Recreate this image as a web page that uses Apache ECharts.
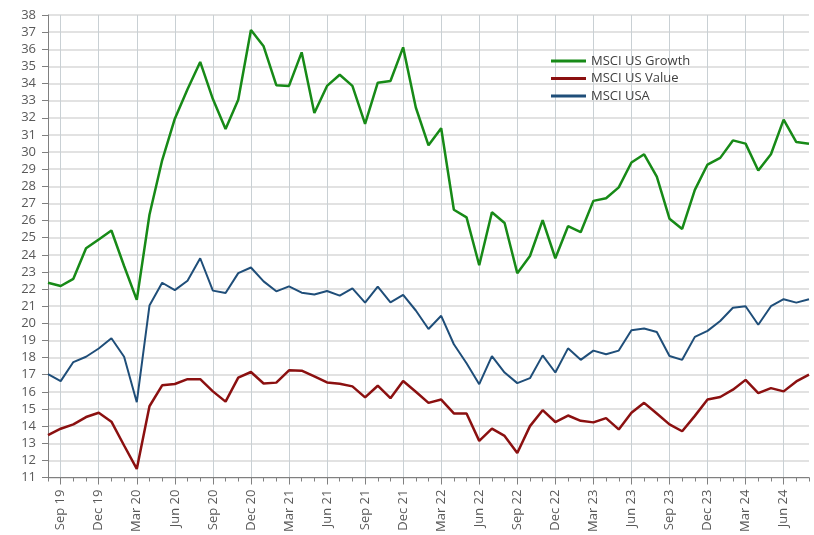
<!DOCTYPE html>
<html>
<head>
<meta charset="utf-8">
<script src="https://cdn.jsdelivr.net/npm/echarts@6/dist/echarts.min.js"></script>
<style>
  html, body { margin: 0; padding: 0; background: #fff; }
  #chart { width: 814px; height: 535px; }
</style>
</head>
<body>
<div id="chart"></div>
<script>
// monthly, Aug 19 .. Aug 24
const months = [
  'Aug 19', 'Sep 19', 'Oct 19', 'Nov 19', 'Dec 19', 'Jan 20', 'Feb 20', 'Mar 20', 'Apr 20', 'May 20',
  'Jun 20', 'Jul 20', 'Aug 20', 'Sep 20', 'Oct 20', 'Nov 20', 'Dec 20', 'Jan 21', 'Feb 21', 'Mar 21',
  'Apr 21', 'May 21', 'Jun 21', 'Jul 21', 'Aug 21', 'Sep 21', 'Oct 21', 'Nov 21', 'Dec 21', 'Jan 22',
  'Feb 22', 'Mar 22', 'Apr 22', 'May 22', 'Jun 22', 'Jul 22', 'Aug 22', 'Sep 22', 'Oct 22', 'Nov 22',
  'Dec 22', 'Jan 23', 'Feb 23', 'Mar 23', 'Apr 23', 'May 23', 'Jun 23', 'Jul 23', 'Aug 23', 'Sep 23',
  'Oct 23', 'Nov 23', 'Dec 23', 'Jan 24', 'Feb 24', 'Mar 24', 'Apr 24', 'May 24', 'Jun 24', 'Jul 24',
  'Aug 24'
]

const growth = [
  22.37, 22.18, 22.6, 24.38, 24.9, 25.42, 23.35, 21.37, 26.34, 29.52,
  31.95, 33.66, 35.26, 33.09, 31.35, 33.05, 37.13, 36.17, 33.9, 33.86,
  35.82, 32.28, 33.86, 34.51, 33.86, 31.64, 34.05, 34.15, 36.11, 32.6,
  30.39, 31.39, 26.63, 26.19, 23.39, 26.49, 25.86, 22.93, 23.93, 26.03,
  23.8, 25.67, 25.32, 27.15, 27.3, 27.94, 29.39, 29.87, 28.56, 26.11,
  25.51, 27.79, 29.27, 29.66, 30.68, 30.49, 28.92, 29.87, 31.89, 30.58,
  30.48
]

const value = [
  13.47, 13.85, 14.1, 14.53, 14.78, 14.26, 12.87, 11.5, 15.16, 16.38,
  16.46, 16.74, 16.74, 16.03, 15.43, 16.83, 17.16, 16.49, 16.54, 17.26,
  17.24, 16.9, 16.55, 16.47, 16.32, 15.68, 16.36, 15.63, 16.63, 16.01,
  15.36, 15.55, 14.74, 14.74, 13.14, 13.85, 13.43, 12.43, 14.0, 14.93,
  14.24, 14.62, 14.31, 14.22, 14.47, 13.81, 14.78, 15.36, 14.74, 14.1,
  13.7, 14.6, 15.55, 15.7, 16.13, 16.7, 15.93, 16.22, 16.03, 16.61,
  17.01
]

const usa = [
  17.03, 16.63, 17.74, 18.05, 18.53, 19.13, 18.05, 15.4, 21.04, 22.37,
  21.94, 22.49, 23.8, 21.91, 21.77, 22.93, 23.26, 22.45, 21.87, 22.16,
  21.79, 21.68, 21.89, 21.62, 22.04, 21.21, 22.14, 21.23, 21.66, 20.75,
  19.67, 20.44, 18.78, 17.67, 16.45, 18.09, 17.13, 16.51, 16.8, 18.13,
  17.13, 18.54, 17.87, 18.41, 18.2, 18.41, 19.6, 19.7, 19.5, 18.09,
  17.87, 19.21, 19.56, 20.14, 20.91, 21.0, 19.92, 21.0, 21.41, 21.21,
  21.41
]

const chart = echarts.init(document.getElementById('chart'))

// quarterly labels start at Sep 19 (index 1)
const quarterly = (i) => i % 3 === 1

const font = '"Open Sans", sans-serif'

chart.setOption({
  animation: false,
  grid: { left: 48, right: 5, top: 15, bottom: 53 },
  legend: {
    orient: 'vertical',
    left: 546,
    top: 49,
    itemWidth: 35,
    itemHeight: 3,
    itemGap: 3.5,
    icon: 'rect',
    textStyle: { color: '#404040', fontSize: 13, fontFamily: font, lineHeight: 14 },
    data: ['MSCI US Growth', 'MSCI US Value', 'MSCI USA']
  },
  xAxis: [
    {
      type: 'category',
      data: months,
      boundaryGap: false,
      axisLine: { lineStyle: { color: '#808080', width: 1 } },
      axisTick: { interval: quarterly, length: 7, lineStyle: { color: '#808080' } },
      axisLabel: {
        interval: quarterly,
        rotate: 90,
        margin: 12,
        color: '#595959',
        fontSize: 13,
        fontFamily: font
      },
      splitLine: { show: true, interval: quarterly, lineStyle: { color: '#c9d0d4', width: 1 } }
    },
    {
      // minor monthly ticks
      type: 'category',
      data: months,
      boundaryGap: false,
      position: 'bottom',
      axisLine: { show: false },
      axisTick: { interval: 0, length: 4, lineStyle: { color: '#808080' } },
      axisLabel: { show: false },
      splitLine: { show: false }
    }
  ],
  yAxis: {
    type: 'value',
    min: 11,
    max: 38,
    interval: 1,
    axisLine: { show: true, lineStyle: { color: '#808080' } },
    axisTick: { show: true, length: 6, lineStyle: { color: '#808080' } },
    axisLabel: { color: '#595959', fontSize: 13, fontFamily: font, margin: 12 },
    splitLine: { lineStyle: { color: '#d9d9d9', width: 1.5 } }
  },
  series: [
    {
      name: 'MSCI US Growth',
      type: 'line',
      data: growth,
      symbol: 'none',
      itemStyle: { color: '#178a17' },
      lineStyle: { color: '#178a17', width: 2.5 }
    },
    {
      name: 'MSCI US Value',
      type: 'line',
      data: value,
      symbol: 'none',
      itemStyle: { color: '#8b1010' },
      lineStyle: { color: '#8b1010', width: 2.5 }
    },
    {
      name: 'MSCI USA',
      type: 'line',
      data: usa,
      symbol: 'none',
      itemStyle: { color: '#1f4e79' },
      lineStyle: { color: '#1f4e79', width: 2 }
    }
  ]
})
</script>
</body>
</html>
